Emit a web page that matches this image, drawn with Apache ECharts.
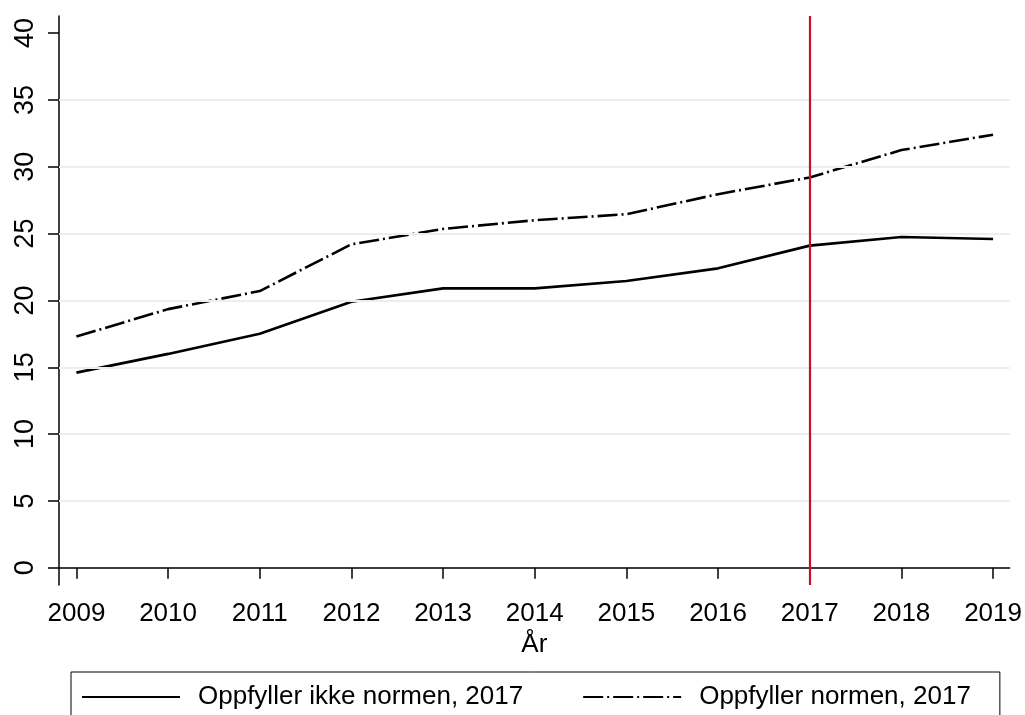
<!DOCTYPE html>
<html>
<head>
<meta charset="utf-8">
<style>
  html, body { margin: 0; padding: 0; background: #fff; }
  #chart { width: 1025px; height: 715px; }
</style>
<script src="https://cdn.jsdelivr.net/npm/echarts@6/dist/echarts.min.js"></script>
</head>
<body>
<div id="chart"></div>
<script>
// data
var years = [2009, 2010, 2011, 2012, 2013, 2014, 2015, 2016, 2017, 2018, 2019];
var ikkeNormen = [14.6, 16.0, 17.5, 19.9, 20.9, 20.9, 21.45, 22.4, 24.1, 24.75, 24.6];
var normen = [17.3, 19.35, 20.7, 24.2, 25.35, 26.0, 26.45, 27.95, 29.2, 31.25, 32.4];
var yTicks = [0, 5, 10, 15, 20, 25, 30, 35, 40];
var gridValues = [5, 10, 15, 20, 25, 30, 35];
var cutYear = 2017;

(function () {
  var font = "'Liberation Sans', Arial, sans-serif";
  var myChart = echarts.init(document.getElementById("chart"));

  function pairs(vals) {
    return years.map(function (y, i) {
      return [y, vals[i]];
    });
  }

  var option = {
    animation: false,
    textStyle: { fontFamily: font },
    grid: {
      left: 59,
      right: 14,
      top: 16,
      bottom: 130,
      containLabel: false,
    },
    legend: {
      data: ["Oppfyller ikke normen, 2017", "Oppfyller normen, 2017"],
      left: 71,
      top: 672,
      orient: "horizontal",
      borderColor: "#000",
      borderWidth: 1,
      padding: [12, 29, 40, 10],
      itemWidth: 98,
      itemHeight: 2,
      itemGap: 59,
      itemStyle: { opacity: 0 },
      textStyle: {
        fontSize: 26,
        color: "#000",
        fontFamily: font,
        padding: [0, 0, 0, 13],
      },
    },
    xAxis: {
      type: "value",
      min: 2008.81,
      max: 2019.18,
      name: "År",
      nameLocation: "middle",
      nameGap: 37,
      nameTextStyle: { fontSize: 26, color: "#000", fontFamily: font },
      axisLine: { lineStyle: { color: "#000", width: 1.5 } },
      axisTick: { length: 11, lineStyle: { color: "#000", width: 1.5 }, customValues: years },
      axisLabel: {
        customValues: years,
        fontSize: 26,
        color: "#000",
        margin: 16,
        formatter: function (v) {
          return String(v);
        },
      },
      splitLine: { show: false },
    },
    yAxis: {
      type: "value",
      min: -1.29,
      max: 41.28,
      axisLine: { show: true, lineStyle: { color: "#000", width: 1.5 } },
      axisTick: { show: true, length: 11, lineStyle: { color: "#000", width: 1.5 }, customValues: yTicks },
      axisLabel: {
        customValues: yTicks,
        fontSize: 27,
        color: "#000",
        rotate: 90,
        margin: 20,
      },
      splitLine: { show: false },
    },
    series: [
      {
        name: "ref",
        type: "line",
        data: [],
        silent: true,
        z: 1,
        markLine: {
          silent: true,
          symbol: "none",
          label: { show: false },
          animation: false,
          data: gridValues
            .map(function (v) {
              return { yAxis: v, lineStyle: { color: "#e6eff1", width: 1.8, type: "solid" } };
            })
            .concat([{ xAxis: cutYear, lineStyle: { color: "#c8102e", width: 2.2, type: "solid" } }]),
        },
      },
      {
        name: "Oppfyller ikke normen, 2017",
        type: "line",
        data: pairs(ikkeNormen),
        symbol: "none",
        z: 3,
        lineStyle: { color: "#000", width: 2.6, type: "solid" },
        itemStyle: { color: "#000" },
      },
      {
        name: "Oppfyller normen, 2017",
        type: "line",
        data: pairs(normen),
        symbol: "none",
        z: 3,
        lineStyle: { color: "#000", width: 2.6, type: [20, 4, 2, 4] },
        itemStyle: { color: "#000" },
      },
    ],
  };
  myChart.setOption(option);

  window.addEventListener("resize", function () {
    myChart.resize();
  });
})();
</script>
</body>
</html>
